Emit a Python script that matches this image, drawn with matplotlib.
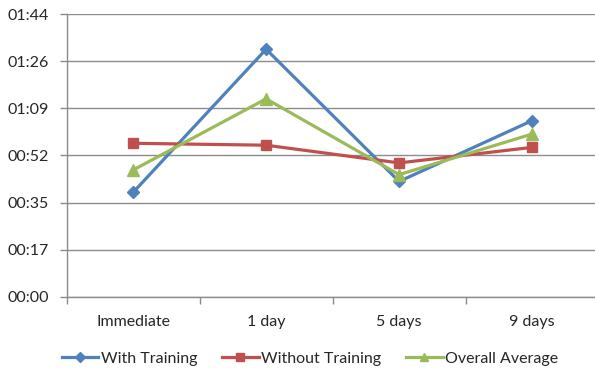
import matplotlib
matplotlib.use("Agg")
import matplotlib.pyplot as plt
from matplotlib.ticker import FixedLocator, FuncFormatter

# recall times in seconds
categories = ["Immediate", "1 day", "5 days", "9 days"]
with_training = [38.3, 90.8, 42.3, 64.6]
without_training = [56.3, 55.6, 49.1, 54.8]
overall_average = [46.5, 72.6, 44.8, 59.7]

# axis runs in steps of 0.0002 day (17.28 s)
y_step = 17.28
y_ticks = [y_step * i for i in range(7)]

plt.rcParams['font.family'] = ['Lato', 'DejaVu Sans']
plt.rcParams['font.size'] = 11.5

fig = plt.figure(figsize=(5.95, 3.71), dpi=100)
ax = fig.add_axes([0.112, 0.2, 0.894, 0.762])

x = list(range(len(categories)))
ax.plot(x, with_training, color='#4F81BD', lw=2.3, marker='D', ms=6.5,
        label='With Training', zorder=3)
ax.plot(x, without_training, color='#C0504D', lw=2.3, marker='s', ms=7,
        label='Without Training', zorder=3)
ax.plot(x, overall_average, color='#9BBB59', lw=2.3, marker='^', ms=8,
        label='Overall Average', zorder=3)

ax.set_xlim(-0.5, len(categories) - 0.5)
ax.set_ylim(0, y_ticks[-1])


def mmss(v, pos):
    s = int(round(v))
    return "%02d:%02d" % (s // 60, s % 60)


ax.yaxis.set_major_locator(FixedLocator(y_ticks))
ax.yaxis.set_major_formatter(FuncFormatter(mmss))
ax.grid(axis='y', color='#8C8C8C', lw=1)
ax.set_axisbelow(True)

ax.set_xticks(x)
ax.set_xticklabels(categories)
ax.xaxis.set_minor_locator(FixedLocator([i - 0.5 for i in range(len(categories) + 1)]))
ax.tick_params(axis='x', which='major', length=0, pad=13, colors='#262626')
ax.tick_params(axis='x', which='minor', length=5, color='#8C8C8C', width=1)
ax.tick_params(axis='y', length=5, color='#8C8C8C', width=1, pad=8,
               labelcolor='#262626')

for side in ['top', 'right']:
    ax.spines[side].set_visible(False)
for side in ['left', 'bottom']:
    ax.spines[side].set_color('#8C8C8C')
    ax.spines[side].set_linewidth(1)

fig.legend(loc='center', bbox_to_anchor=(0.521, 0.033), ncol=3, frameon=False,
           handlelength=2.3, handletextpad=0.15, columnspacing=1.55,
           markerscale=0.75, labelcolor='#262626')

fig.savefig("out.png", dpi=100)
